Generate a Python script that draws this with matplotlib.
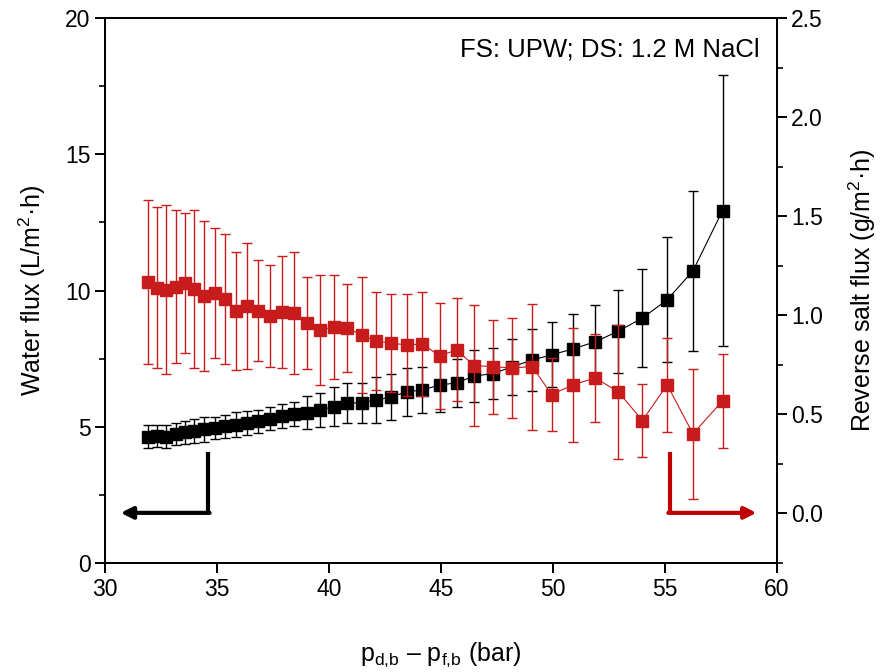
import matplotlib
matplotlib.use("Agg")
import matplotlib.pyplot as plt
from matplotlib.ticker import MultipleLocator

plt.rcParams['font.family'] = ['Liberation Sans', 'DejaVu Sans']
plt.rcParams['mathtext.fontset'] = 'custom'
plt.rcParams['mathtext.rm'] = 'Liberation Sans'

# datos
dp = [31.93, 32.34, 32.74, 33.16, 33.59, 33.99, 34.43, 34.93, 35.37, 35.86,
      36.36, 36.85, 37.38, 37.92, 38.45, 39.02, 39.62, 40.21, 40.81, 41.46,
      42.11, 42.77, 43.47, 44.18, 44.94, 45.70, 46.49, 47.31, 48.16, 49.08,
      49.95, 50.92, 51.90, 52.93, 54.00, 55.11, 56.26, 57.58]

water = [4.63, 4.66, 4.63, 4.73, 4.80, 4.86, 4.90, 4.95, 5.02, 5.08,
         5.14, 5.20, 5.30, 5.40, 5.47, 5.52, 5.61, 5.74, 5.87, 5.88,
         5.98, 6.09, 6.28, 6.35, 6.53, 6.61, 6.86, 6.95, 7.19, 7.45,
         7.64, 7.86, 8.12, 8.51, 8.99, 9.66, 10.72, 12.93]
water_err = [0.42, 0.40, 0.42, 0.40, 0.42, 0.44, 0.45, 0.40, 0.42, 0.45,
             0.44, 0.43, 0.42, 0.45, 0.45, 0.62, 0.63, 0.71, 0.72, 0.73,
             0.83, 0.86, 0.89, 0.83, 0.98, 0.89, 0.96, 0.94, 1.02, 1.14,
             1.19, 1.26, 1.36, 1.52, 1.79, 2.30, 2.93, 4.97]

salt = [1.168, 1.138, 1.128, 1.143, 1.163, 1.133, 1.097, 1.112, 1.082, 1.022,
        1.047, 1.022, 0.996, 1.017, 1.012, 0.961, 0.926, 0.941, 0.936, 0.901,
        0.870, 0.860, 0.850, 0.855, 0.795, 0.825, 0.746, 0.741, 0.734, 0.741,
        0.600, 0.650, 0.684, 0.613, 0.469, 0.649, 0.402, 0.568]
salt_err = [0.414, 0.406, 0.426, 0.386, 0.352, 0.400, 0.380, 0.330, 0.328, 0.299,
            0.319, 0.255, 0.257, 0.284, 0.306, 0.231, 0.279, 0.263, 0.221, 0.293,
            0.248, 0.245, 0.257, 0.264, 0.268, 0.260, 0.306, 0.237, 0.250, 0.318,
            0.184, 0.287, 0.223, 0.338, 0.184, 0.238, 0.329, 0.237]

rojo = '#C81B1B'
rojo_flecha = '#C00000'

fig = plt.figure(figsize=(8.81, 6.72), dpi=100)
ax = fig.add_axes([0.1192, 0.1622, 0.7624, 0.8110])
ax2 = ax.twinx()

ax.errorbar(dp, water, yerr=water_err, color='black', marker='s', markersize=8,
            linewidth=0.8, elinewidth=1.0, capsize=3.5, capthick=1.0)
ax2.errorbar(dp, salt, yerr=salt_err, color=rojo, marker='s', markersize=8,
             linewidth=0.8, elinewidth=1.0, capsize=3.5, capthick=1.0)

ax.set_xlim(30, 60)
ax.set_ylim(0, 20)
ax2.set_ylim(-0.25, 2.5)

ax.xaxis.set_major_locator(MultipleLocator(5))
ax.yaxis.set_major_locator(MultipleLocator(5))
ax.yaxis.set_minor_locator(MultipleLocator(2.5))
ax2.yaxis.set_major_locator(MultipleLocator(0.5))
ax2.yaxis.set_minor_locator(MultipleLocator(0.25))
ax2.yaxis.set_major_formatter(matplotlib.ticker.FormatStrFormatter('%.1f'))

for a in (ax, ax2):
    for s in a.spines.values():
        s.set_linewidth(1.4)
    a.tick_params(which='major', direction='out', length=7, width=1.4, labelsize=16.5)
    a.tick_params(which='minor', direction='out', length=4, width=1.2)
ax.tick_params(axis='y', right=False)

ax.set_xlabel(r'p$_\mathregular{d{,}b}$ – p$_\mathregular{f{,}b}$ (bar)', fontsize=18, labelpad=29)
ax.set_ylabel(r'Water flux (L/m$^\mathregular{2}$·h)', fontsize=18, labelpad=12)
ax2.set_ylabel(r'Reverse salt flux (g/m$^\mathregular{2}$·h)', fontsize=18, labelpad=17)

ax.text(0.975, 0.965, 'FS: UPW; DS: 1.2 M NaCl', transform=ax.transAxes,
        ha='right', va='top', fontsize=18.5)

# flechas indicando el eje de cada serie
ax.plot([34.6, 34.6], [4.08, 1.84], color='black', linewidth=3, solid_capstyle='butt')
ax.annotate('', xy=(30.7, 1.84), xytext=(34.67, 1.84),
            arrowprops=dict(arrowstyle='-|>,head_length=0.7,head_width=0.35',
                            color='black', linewidth=3, shrinkA=0, shrinkB=0))
ax.plot([55.23, 55.23], [4.08, 1.84], color=rojo_flecha, linewidth=3, solid_capstyle='butt')
ax.annotate('', xy=(59.1, 1.84), xytext=(55.16, 1.84),
            arrowprops=dict(arrowstyle='-|>,head_length=0.7,head_width=0.35',
                            color=rojo_flecha, linewidth=3, shrinkA=0, shrinkB=0))

plt.savefig('out.png', dpi=100)
